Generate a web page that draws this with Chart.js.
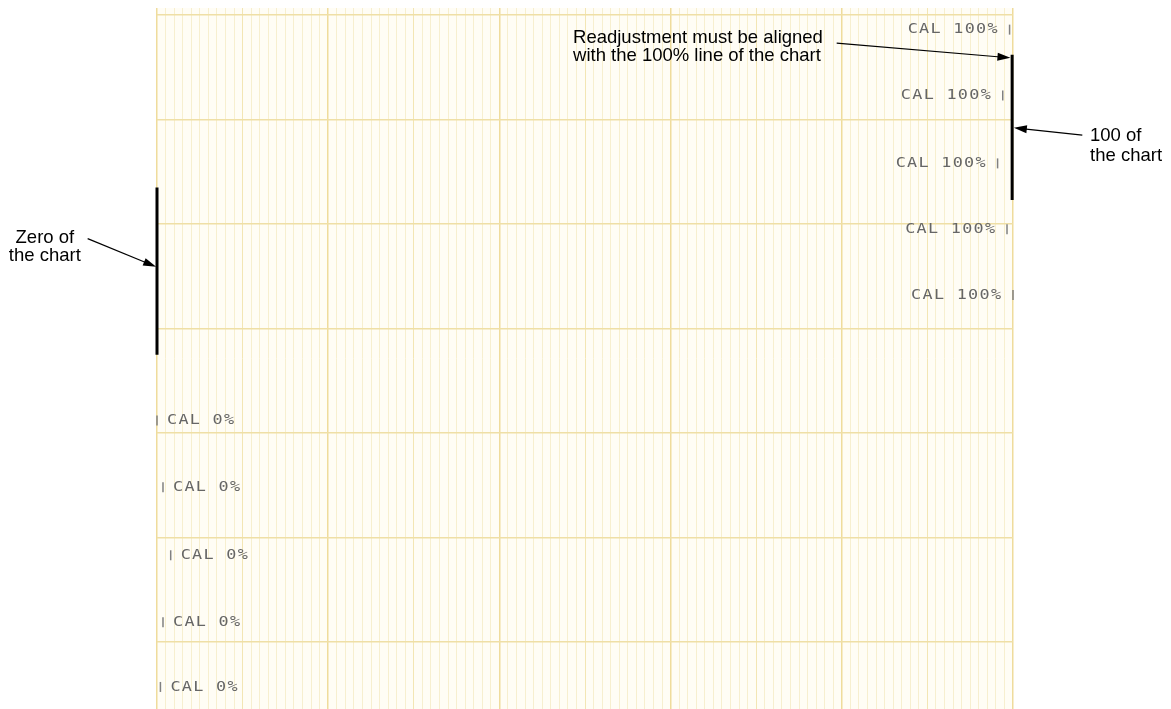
<!DOCTYPE html>
<html>
<head>
<meta charset="utf-8">
<script src="https://cdn.jsdelivr.net/npm/chart.js@4/dist/chart.umd.min.js"></script>
<style>
  html, body { margin: 0; padding: 0; background: #fff; }
  #wrap { width: 1171px; height: 709px; position: relative; }
</style>
</head>
<body>
<div id="wrap"><canvas id="myChart"></canvas></div>
<script>
// pen position (% of span) and chart time (one major division = 10) of each calibration mark
const calHighPos = [99.6, 98.8, 98.2, 99.3, 100];
const calHighTime = [58.6, 52.3, 45.8, 39.5, 33.2];
const calLowPos = [0, 0.7, 1.6, 0.7, 0.4];
const calLowTime = [21.2, 14.8, 8.3, 1.9, -4.3];
const calHighLabel = 'CAL 100%';
const calLowLabel = 'CAL 0%';

// heavy bars marking zero and 100 of the chart
const zeroBar = [{x: 0, y: 43.5}, {x: 0, y: 27.5}];
const spanBar = [{x: 99.9, y: 56.2}, {x: 99.9, y: 42.3}];

// call-outs, in chart units
const noteText = [
  ['Readjustment must be aligned', 'with the 100% line of the chart'],
  ['100 of', 'the chart'],
  ['Zero of', 'the chart']
];
const noteAt = [{x: 48.6, y: 57.8}, {x: 109.0, y: 48.4}, {x: -13.1, y: 38.7}];
const noteTail = [{x: 79.4, y: 57.3}, {x: 108.1, y: 48.5}, {x: -8.1, y: 38.6}];
const noteHead = [{x: 99.7, y: 55.9}, {x: 100.1, y: 49.2}, {x: -0.1, y: 35.9}];

const xMin = 0, xMax = 100;
const yMin = -6.41, yMax = 60.67;

const toPts = (xs, ys) => xs.map((x, i) => ({x: x, y: ys[i]}));

const paperPlugin = {
  id: 'paper',
  beforeDraw(chart) {
    const {ctx, chartArea: a} = chart;
    ctx.save();
    ctx.fillStyle = '#fffdf5';
    ctx.fillRect(a.left, a.top, a.right - a.left, a.bottom - a.top);
    ctx.restore();
  }
};

// printer text beside each calibration mark
const calTextPlugin = {
  id: 'calText',
  afterDatasetsDraw(chart) {
    const {ctx, scales} = chart;
    const pitch = 11.4, stretch = 1.2;
    ctx.save();
    ctx.font = '14px "DejaVu Sans Mono"';
    ctx.fillStyle = '#666';
    ctx.textBaseline = 'middle';
    ctx.textAlign = 'left';
    const put = (txt, left, y) => {
      for (let i = 0; i < txt.length; i++) {
        ctx.save();
        ctx.translate(left + i * pitch, y);
        ctx.scale(stretch, 1);
        ctx.fillText(txt[i], 0, 0);
        ctx.restore();
      }
    };
    calHighPos.forEach((v, i) => {
      const px = scales.x.getPixelForValue(v);
      const py = scales.y.getPixelForValue(calHighTime[i]);
      const w = (calHighLabel.length - 1) * pitch + 8.4 * stretch;
      put(calHighLabel, px - 12 - w, py);
    });
    calLowPos.forEach((v, i) => {
      const px = scales.x.getPixelForValue(v);
      const py = scales.y.getPixelForValue(calLowTime[i]);
      put(calLowLabel, px + 10, py);
    });
    ctx.restore();
  }
};

const notePlugin = {
  id: 'notes',
  afterDraw(chart) {
    const {ctx, scales} = chart;
    const px = p => ({x: scales.x.getPixelForValue(p.x), y: scales.y.getPixelForValue(p.y)});
    ctx.save();
    ctx.fillStyle = '#000';
    ctx.strokeStyle = '#000';
    ctx.font = '18.5px "Liberation Sans", Arial, sans-serif';
    ctx.textBaseline = 'middle';
    noteText.forEach((lines, i) => {
      const at = px(noteAt[i]);
      ctx.textAlign = i === 2 ? 'center' : 'left';
      const lh = i === 1 ? 20 : 18;
      lines.forEach((t, j) => ctx.fillText(t, at.x, at.y + j * lh));

      const a = px(noteTail[i]), b = px(noteHead[i]);
      const ang = Math.atan2(b.y - a.y, b.x - a.x);
      ctx.lineWidth = 1.2;
      ctx.beginPath();
      ctx.moveTo(a.x, a.y);
      ctx.lineTo(b.x - 10 * Math.cos(ang), b.y - 10 * Math.sin(ang));
      ctx.stroke();
      ctx.beginPath();
      ctx.moveTo(b.x, b.y);
      ctx.lineTo(b.x - 13 * Math.cos(ang) + 4 * Math.sin(ang), b.y - 13 * Math.sin(ang) - 4 * Math.cos(ang));
      ctx.lineTo(b.x - 13 * Math.cos(ang) - 4 * Math.sin(ang), b.y - 13 * Math.sin(ang) + 4 * Math.cos(ang));
      ctx.closePath();
      ctx.fill();
    });
    ctx.restore();
  }
};

const ctx = document.getElementById('myChart').getContext('2d');
const chart = new Chart(ctx, {
  type: 'scatter',
  data: {
    datasets: [
      {
        label: calHighLabel,
        data: toPts(calHighPos, calHighTime),
        pointStyle: 'line',
        rotation: 90,
        radius: 5,
        borderWidth: 1.5,
        borderColor: '#808080',
        clip: false
      },
      {
        label: calLowLabel,
        data: toPts(calLowPos, calLowTime),
        pointStyle: 'line',
        rotation: 90,
        radius: 5,
        borderWidth: 1.5,
        borderColor: '#808080',
        clip: false
      },
      {
        label: 'zero',
        type: 'line',
        data: zeroBar,
        showLine: true,
        borderColor: '#000',
        borderWidth: 3,
        pointRadius: 0,
        clip: false
      },
      {
        label: 'span',
        type: 'line',
        data: spanBar,
        showLine: true,
        borderColor: '#000',
        borderWidth: 3,
        pointRadius: 0,
        clip: false
      }
    ]
  },
  options: {
    responsive: true,
    maintainAspectRatio: false,
    animation: false,
    layout: { autoPadding: false, padding: { left: 157, right: 158, top: 8, bottom: 0 } },
    plugins: { legend: { display: false }, tooltip: { enabled: false } },
    scales: {
      x: {
        type: 'linear',
        min: xMin,
        max: xMax,
        afterBuildTicks: s => { s.ticks = Array.from({length: 101}, (_, i) => ({value: i})); },
        ticks: { display: false },
        border: { display: false },
        grid: {
          drawTicks: false,
          color: c => c.tick.value % 20 === 0 ? '#efdc9c' : (c.tick.value % 10 === 0 ? '#f3e6b4' : '#f7efcf'),
          lineWidth: c => c.tick.value % 20 === 0 ? 1.5 : 1
        }
      },
      y: {
        type: 'linear',
        min: yMin,
        max: yMax,
        afterBuildTicks: s => { s.ticks = [0, 10, 20, 30, 40, 50, 60].map(v => ({value: v})); },
        ticks: { display: false },
        border: { display: false },
        grid: { drawTicks: false, color: '#efdfa6', lineWidth: 1.5 }
      }
    }
  },
  plugins: [paperPlugin, calTextPlugin, notePlugin]
});
</script>
</body>
</html>
